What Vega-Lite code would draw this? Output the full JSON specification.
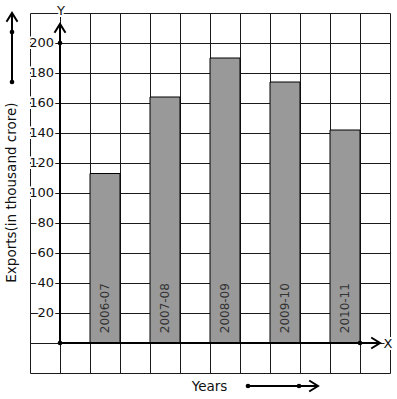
{
  "$schema": "https://vega.github.io/schema/vega-lite/v6.json",
  "width": 360,
  "height": 360,
  "autosize": {"type": "none"},
  "padding": {"left": 30, "top": 13, "right": 7, "bottom": 26},
  "background": "white",
  "config": {"view": {"stroke": null}, "font": "DejaVu Sans"},
  "datasets": {
    "exports": [
      {"year": "2006-07", "exports": 113},
      {"year": "2007-08", "exports": 164},
      {"year": "2008-09", "exports": 190},
      {"year": "2009-10", "exports": 174},
      {"year": "2010-11", "exports": 142}
    ],
    "ticks": [{"v": 20}, {"v": 40}, {"v": 60}, {"v": 80}, {"v": 100}, {"v": 120}, {"v": 140}, {"v": 160}, {"v": 180}, {"v": 200}],
    "dots": [{"x": 0, "y": 0}, {"x": 0, "y": 200}, {"x": 10, "y": 0}, {"x": -1.6, "y": 174}, {"x": -1.6, "y": 207.3}, {"x": 6.267, "y": -28.67}, {"x": 7.967, "y": -28.67}],
    "upTips": [{"x": 0, "y": 212.67}, {"x": -1.6, "y": 220}],
    "rightTips": [{"x": 10.667, "y": 0}, {"x": 8.6, "y": -28.67}]
  },
  "resolve": {"scale": {"x": "independent"}, "axis": {"x": "independent", "y": "independent"}},
  "layer": [
    {
      "data": {"values": [{}]},
      "mark": {"type": "point", "opacity": 0},
      "encoding": {
        "x": {"datum": 0, "type": "quantitative", "scale": {"domain": [-1, 11], "nice": false, "zero": false},
          "axis": {"values": [-1, 0, 1, 2, 3, 4, 5, 6, 7, 8, 9, 10, 11], "grid": true, "gridColor": "#1a1a1a", "gridWidth": 1, "gridOpacity": 1, "labels": false, "ticks": false, "domain": false, "title": null}},
        "y": {"datum": 0, "type": "quantitative", "scale": {"domain": [-20, 220], "nice": false, "zero": false},
          "axis": {"values": [-20, 0, 20, 40, 60, 80, 100, 120, 140, 160, 180, 200, 220], "grid": true, "gridColor": "#1a1a1a", "gridWidth": 1, "gridOpacity": 1, "labels": false, "ticks": false, "domain": false, "title": null}}
      }
    },
    {
      "data": {"name": "exports"},
      "encoding": {
        "x": {"field": "year", "type": "nominal", "sort": null, "axis": null,
          "scale": {"paddingInner": 0.5, "paddingOuter": 0.75, "align": 0.6667}}
      },
      "layer": [
        {
          "mark": {"type": "bar", "color": "#999999", "stroke": "black", "strokeWidth": 1},
          "encoding": {
            "y": {"field": "exports", "type": "quantitative", "scale": {"domain": [-20, 220], "nice": false, "zero": false}, "axis": null},
            "y2": {"datum": 0}
          }
        },
        {
          "mark": {"type": "text", "angle": 270, "align": "left", "baseline": "middle", "fontSize": 12, "color": "#333"},
          "encoding": {
            "y": {"datum": 6.5, "type": "quantitative", "scale": {"domain": [-20, 220], "nice": false, "zero": false}, "axis": null},
            "text": {"field": "year"}
          }
        }
      ]
    },
    {
      "data": {"values": [{}]},
      "layer": [
        {
          "mark": {"type": "rule", "strokeWidth": 2, "color": "black"},
          "encoding": {
            "x": {"datum": 0, "type": "quantitative", "scale": {"domain": [-1, 11], "nice": false, "zero": false}, "axis": null},
            "y": {"datum": 0, "type": "quantitative", "scale": {"domain": [-20, 220], "nice": false, "zero": false}, "axis": null},
            "y2": {"datum": 212.67}
          }
        },
        {
          "mark": {"type": "rule", "strokeWidth": 2, "color": "black"},
          "encoding": {
            "x": {"datum": 0, "type": "quantitative", "scale": {"domain": [-1, 11], "nice": false, "zero": false}, "axis": null},
            "x2": {"datum": 10.667},
            "y": {"datum": 0, "type": "quantitative", "scale": {"domain": [-20, 220], "nice": false, "zero": false}, "axis": null}
          }
        },
        {
          "mark": {"type": "rule", "strokeWidth": 2, "color": "black"},
          "encoding": {
            "x": {"datum": -1.6, "type": "quantitative", "scale": {"domain": [-1, 11], "nice": false, "zero": false}, "axis": null},
            "y": {"datum": 174, "type": "quantitative", "scale": {"domain": [-20, 220], "nice": false, "zero": false}, "axis": null},
            "y2": {"datum": 220}
          }
        },
        {
          "mark": {"type": "rule", "strokeWidth": 2, "color": "black"},
          "encoding": {
            "x": {"datum": 6.267, "type": "quantitative", "scale": {"domain": [-1, 11], "nice": false, "zero": false}, "axis": null},
            "x2": {"datum": 8.6},
            "y": {"datum": -28.67, "type": "quantitative", "scale": {"domain": [-20, 220], "nice": false, "zero": false}, "axis": null}
          }
        },
        {
          "data": {"name": "upTips"},
          "mark": {"type": "point", "shape": "M-1,1.6L0,0L1,1.6", "filled": false, "stroke": "black", "strokeWidth": 2, "size": 121, "opacity": 1},
          "encoding": {
            "x": {"field": "x", "type": "quantitative", "scale": {"domain": [-1, 11], "nice": false, "zero": false}, "axis": null},
            "y": {"field": "y", "type": "quantitative", "scale": {"domain": [-20, 220], "nice": false, "zero": false}, "axis": null}
          }
        },
        {
          "data": {"name": "rightTips"},
          "mark": {"type": "point", "shape": "M-1.6,-1L0,0L-1.6,1", "filled": false, "stroke": "black", "strokeWidth": 2, "size": 121, "opacity": 1},
          "encoding": {
            "x": {"field": "x", "type": "quantitative", "scale": {"domain": [-1, 11], "nice": false, "zero": false}, "axis": null},
            "y": {"field": "y", "type": "quantitative", "scale": {"domain": [-20, 220], "nice": false, "zero": false}, "axis": null}
          }
        },
        {
          "data": {"name": "dots"},
          "mark": {"type": "circle", "color": "black", "size": 22, "opacity": 1},
          "encoding": {
            "x": {"field": "x", "type": "quantitative", "scale": {"domain": [-1, 11], "nice": false, "zero": false}, "axis": null},
            "y": {"field": "y", "type": "quantitative", "scale": {"domain": [-20, 220], "nice": false, "zero": false}, "axis": null}
          }
        },
        {
          "data": {"name": "ticks"},
          "mark": {"type": "text", "align": "right", "baseline": "middle", "fontSize": 13, "stroke": "white", "strokeWidth": 4, "color": "white"},
          "encoding": {
            "x": {"datum": -0.2, "type": "quantitative", "scale": {"domain": [-1, 11], "nice": false, "zero": false}, "axis": null},
            "y": {"field": "v", "type": "quantitative", "scale": {"domain": [-20, 220], "nice": false, "zero": false}, "axis": null},
            "text": {"field": "v"}
          }
        },
        {
          "data": {"name": "ticks"},
          "mark": {"type": "text", "align": "right", "baseline": "middle", "fontSize": 13, "color": "#111"},
          "encoding": {
            "x": {"datum": -0.2, "type": "quantitative", "scale": {"domain": [-1, 11], "nice": false, "zero": false}, "axis": null},
            "y": {"field": "v", "type": "quantitative", "scale": {"domain": [-20, 220], "nice": false, "zero": false}, "axis": null},
            "text": {"field": "v"}
          }
        },
        {
          "mark": {"type": "text", "text": "Y", "align": "center", "baseline": "alphabetic", "fontSize": 13, "stroke": "white", "strokeWidth": 4, "color": "white"},
          "encoding": {
            "x": {"datum": 0.03, "type": "quantitative", "scale": {"domain": [-1, 11], "nice": false, "zero": false}, "axis": null},
            "y": {"datum": 218.7, "type": "quantitative", "scale": {"domain": [-20, 220], "nice": false, "zero": false}, "axis": null}
          }
        },
        {
          "mark": {"type": "text", "text": "Y", "align": "center", "baseline": "alphabetic", "fontSize": 13, "color": "#111"},
          "encoding": {
            "x": {"datum": 0.03, "type": "quantitative", "scale": {"domain": [-1, 11], "nice": false, "zero": false}, "axis": null},
            "y": {"datum": 218.7, "type": "quantitative", "scale": {"domain": [-20, 220], "nice": false, "zero": false}, "axis": null}
          }
        },
        {
          "mark": {"type": "text", "text": "X", "align": "center", "baseline": "alphabetic", "fontSize": 13, "stroke": "white", "strokeWidth": 4, "color": "white"},
          "encoding": {
            "x": {"datum": 10.933, "type": "quantitative", "scale": {"domain": [-1, 11], "nice": false, "zero": false}, "axis": null},
            "y": {"datum": -3.13, "type": "quantitative", "scale": {"domain": [-20, 220], "nice": false, "zero": false}, "axis": null}
          }
        },
        {
          "mark": {"type": "text", "text": "X", "align": "center", "baseline": "alphabetic", "fontSize": 13, "color": "#111"},
          "encoding": {
            "x": {"datum": 10.933, "type": "quantitative", "scale": {"domain": [-1, 11], "nice": false, "zero": false}, "axis": null},
            "y": {"datum": -3.13, "type": "quantitative", "scale": {"domain": [-20, 220], "nice": false, "zero": false}, "axis": null}
          }
        },
        {
          "mark": {"type": "text", "text": "Exports(in thousand crore)", "angle": 270, "align": "center", "baseline": "middle", "fontSize": 13.5, "color": "#111"},
          "encoding": {
            "x": {"datum": -1.6, "type": "quantitative", "scale": {"domain": [-1, 11], "nice": false, "zero": false}, "axis": null},
            "y": {"datum": 100.3, "type": "quantitative", "scale": {"domain": [-20, 220], "nice": false, "zero": false}, "axis": null}
          }
        },
        {
          "mark": {"type": "text", "text": "Years", "align": "center", "baseline": "alphabetic", "fontSize": 13.5, "color": "#111"},
          "encoding": {
            "x": {"datum": 4.983, "type": "quantitative", "scale": {"domain": [-1, 11], "nice": false, "zero": false}, "axis": null},
            "y": {"datum": -32, "type": "quantitative", "scale": {"domain": [-20, 220], "nice": false, "zero": false}, "axis": null}
          }
        }
      ]
    }
  ]
}
